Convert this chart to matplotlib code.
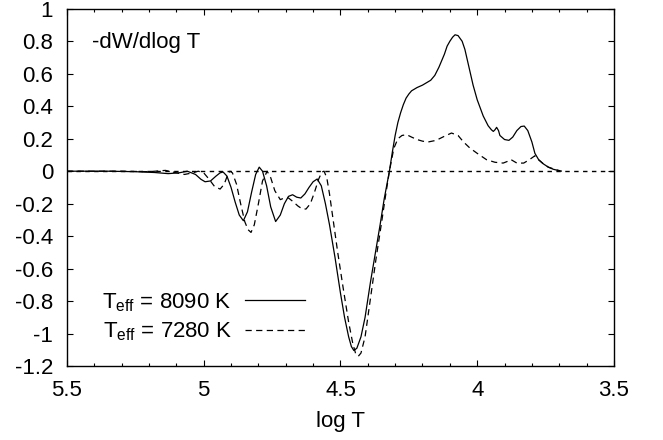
import matplotlib
matplotlib.use('Agg')
import matplotlib.pyplot as plt
from matplotlib.ticker import MultipleLocator, FuncFormatter

plt.rcParams['font.family'] = ['Liberation Sans', 'DejaVu Sans']
plt.rcParams['mathtext.fontset'] = 'custom'
plt.rcParams['mathtext.rm'] = 'Liberation Sans'
plt.rcParams['mathtext.it'] = 'Liberation Sans'

# T_eff = 8090 K (solid)
logT_hot = [5.5, 5.35, 5.25, 5.18, 5.13, 5.09, 5.06, 5.03, 5.01, 4.995, 4.975, 4.955, 4.94,
            4.929, 4.915, 4.90, 4.885, 4.87, 4.855, 4.84, 4.825, 4.81, 4.797, 4.785, 4.77,
            4.755, 4.737, 4.72, 4.705, 4.69, 4.675, 4.66, 4.645, 4.63, 4.615, 4.60, 4.585,
            4.57, 4.555, 4.54, 4.52, 4.50, 4.485, 4.47, 4.46, 4.451, 4.44, 4.425, 4.41, 4.39,
            4.37, 4.355, 4.34, 4.321, 4.31, 4.30, 4.29, 4.28, 4.27, 4.26, 4.25, 4.24, 4.23,
            4.22, 4.20, 4.19, 4.17, 4.155, 4.14, 4.13, 4.12, 4.11, 4.10, 4.09, 4.081, 4.07,
            4.055, 4.045, 4.03, 4.015, 4.00, 3.978, 3.96, 3.948, 3.941, 3.935, 3.929, 3.922,
            3.917, 3.90, 3.884, 3.87, 3.855, 3.84, 3.828, 3.815, 3.80, 3.789, 3.775, 3.758,
            3.74, 3.722, 3.70]
dW_hot = [0.0, 0.0, -0.003, -0.008, -0.015, -0.01, 0.0, -0.02, -0.05, -0.065, -0.06, -0.03, -0.01,
          -0.005, -0.03, -0.10, -0.19, -0.27, -0.305, -0.25, -0.13, -0.02, 0.025, 0.0, -0.09,
          -0.22, -0.31, -0.27, -0.20, -0.155, -0.145, -0.16, -0.165, -0.14, -0.10, -0.065, -0.048,
          -0.09, -0.2, -0.33, -0.53, -0.75, -0.9, -1.02, -1.08, -1.104, -1.09, -1.02, -0.9, -0.68,
          -0.48, -0.33, -0.17, 0.0, 0.12, 0.22, 0.30, 0.36, 0.41, 0.45, 0.475, 0.495, 0.505,
          0.515, 0.53, 0.54, 0.56, 0.59, 0.64, 0.68, 0.72, 0.77, 0.80, 0.825, 0.84, 0.835,
          0.80, 0.75, 0.64, 0.53, 0.44, 0.34, 0.28, 0.255, 0.245, 0.255, 0.27, 0.25,
          0.22, 0.195, 0.19, 0.21, 0.25, 0.275, 0.278, 0.25, 0.18, 0.11, 0.07, 0.045,
          0.025, 0.012, 0.003]

# T_eff = 7280 K (dashed)
logT_cool = [5.5, 5.3, 5.2, 5.14, 5.1, 5.07, 5.04, 5.02, 5.0, 4.98, 4.96, 4.94, 4.925, 4.912,
             4.904, 4.895, 4.88, 4.865, 4.85, 4.838, 4.827, 4.815, 4.80, 4.785, 4.768, 4.755,
             4.74, 4.72, 4.705, 4.69, 4.675, 4.655, 4.64, 4.626, 4.61, 4.595, 4.58, 4.568, 4.56,
             4.55, 4.54, 4.525, 4.51, 4.49, 4.47, 4.455, 4.445, 4.435, 4.425, 4.41, 4.39, 4.37,
             4.35, 4.335, 4.321, 4.305, 4.29, 4.275, 4.258, 4.24, 4.22, 4.2, 4.179, 4.15, 4.12,
             4.094, 4.07, 4.05, 4.027, 4.0, 3.966, 3.935, 3.905, 3.89, 3.877, 3.865, 3.855,
             3.83, 3.81, 3.789, 3.775, 3.758, 3.74, 3.71, 3.69]
dW_cool = [0.0, 0.0, -0.003, 0.005, -0.01, -0.02, -0.01, 0.0, -0.01, -0.05, -0.095, -0.11, -0.08, -0.02,
           0.0, -0.01, -0.08, -0.2, -0.31, -0.36, -0.377, -0.33, -0.2, -0.06, 0.0, -0.04,
           -0.12, -0.175, -0.165, -0.165, -0.185, -0.215, -0.232, -0.233, -0.2, -0.13, -0.05, -0.005, 0.0,
           -0.04, -0.14, -0.32, -0.5, -0.72, -0.93, -1.06, -1.12, -1.14, -1.12, -1.02, -0.78, -0.54,
           -0.32, -0.15, 0.0, 0.14, 0.2, 0.22, 0.225, 0.21, 0.195, 0.185, 0.18, 0.19, 0.215,
           0.235, 0.22, 0.18, 0.143, 0.11, 0.071, 0.055, 0.05, 0.06, 0.072, 0.06, 0.05,
           0.05, 0.07, 0.095, 0.07, 0.045, 0.025, 0.008, 0.0]

labels = [r'T$_{\rm eff}$ = 8090 K', r'T$_{\rm eff}$ = 7280 K']

fig = plt.figure(figsize=(6.63, 4.4), dpi=100)
ax = fig.add_axes([0.101, 0.168, 0.825, 0.812])

ax.axhline(0, color='black', lw=1.0, dashes=(3.2, 3.2))
ax.plot(logT_hot, dW_hot, color='black', lw=0.9, label=labels[0])
ax.plot(logT_cool, dW_cool, color='black', lw=0.9, dashes=(5, 3.5), label=labels[1])

ax.set_xlim(5.5, 3.5)
ax.set_ylim(-1.2, 1)
ax.xaxis.set_major_locator(MultipleLocator(0.5))
ax.xaxis.set_minor_locator(MultipleLocator(0.1))
ax.yaxis.set_major_locator(MultipleLocator(0.2))
ax.tick_params(which='both', direction='in', top=True, right=True, width=0.8, labelsize=16)
ax.tick_params(which='major', length=4)
ax.tick_params(which='minor', length=2.2)
ax.tick_params(axis='y', pad=10)
ax.tick_params(axis='x', pad=10)
fmt = FuncFormatter(lambda v, p: '%g' % round(v, 2))
ax.xaxis.set_major_formatter(fmt)
ax.yaxis.set_major_formatter(fmt)
for s in ax.spines.values():
    s.set_linewidth(1.0)

ax.set_xlabel('log T', fontsize=16, labelpad=7)
ax.text(0.046, 0.905, '-dW/dlog T', transform=ax.transAxes, fontsize=16, va='center', ha='left')

ax.legend(loc='center right', bbox_to_anchor=(0.435, 0.137), frameon=False, markerfirst=False,
          fontsize=16, handlelength=2.7, handletextpad=0.6, borderpad=0, labelspacing=0.3,
          borderaxespad=0)

fig.savefig('out.png', dpi=100)
